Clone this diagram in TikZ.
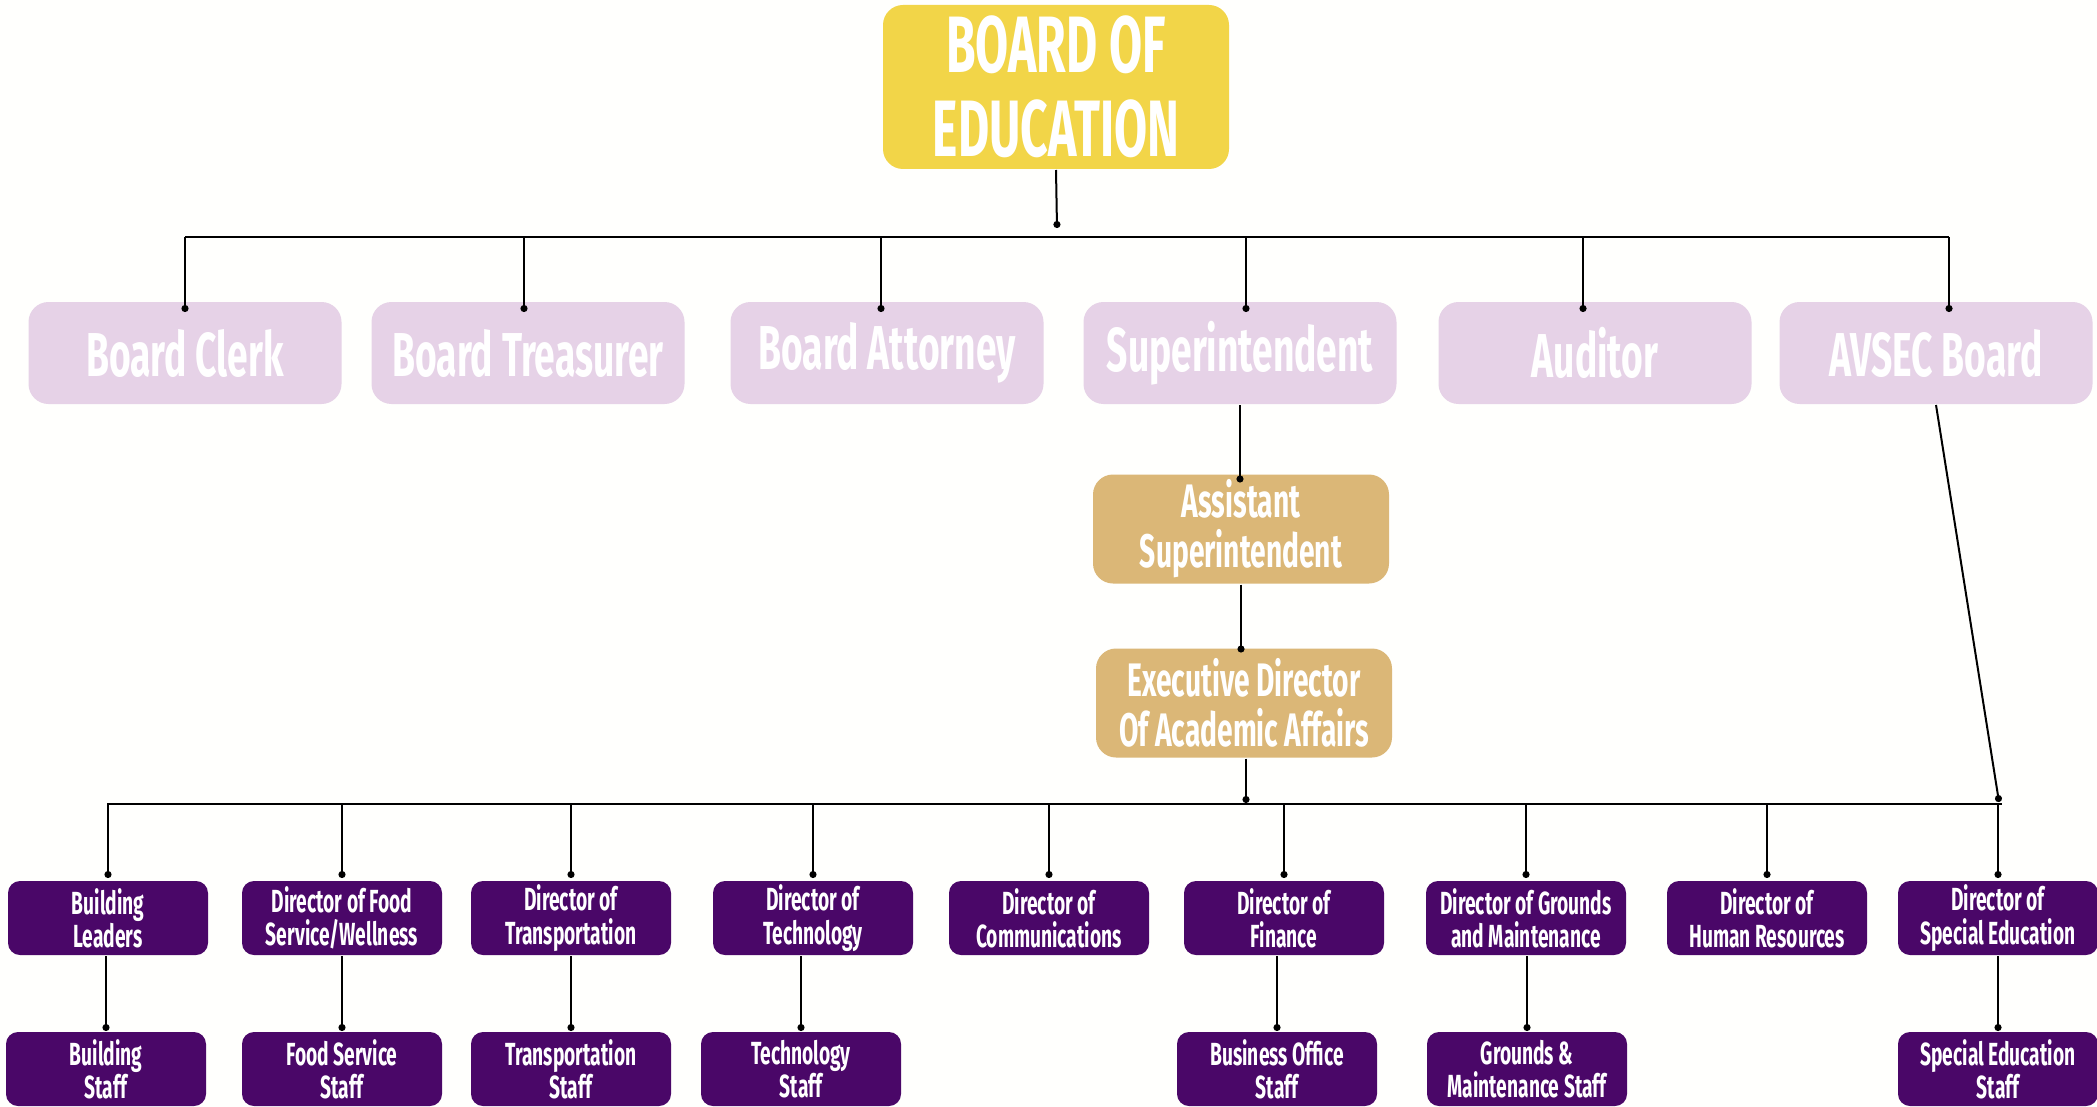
\documentclass[tikz,border=0pt]{standalone}
\usepackage{fontspec}
\newfontfamily\orgfont{Fira Sans}[FakeStretch=0.6]
\usetikzlibrary{arrows.meta}
\definecolor{boeyellow}{HTML}{F2D548}
\definecolor{boardpink}{HTML}{E6D2E7}
\definecolor{officetan}{HTML}{DBB777}
\definecolor{deptpurple}{HTML}{4A0768}
\definecolor{paper}{HTML}{FFFFFD}

\begin{document}
\begin{tikzpicture}[x=0.5pt,y=-0.5pt,line width=1pt,>={Circle[length=3.5pt,width=3.5pt]},
  box/.style={rounded corners=10pt, inner sep=0pt, align=center, text=white},
  boe/.style={box, fill=boeyellow, minimum width=173pt, minimum height=82pt,
    font=\orgfont\bfseries\fontsize{40}{42}\selectfont},
  member/.style={box, fill=boardpink, minimum width=156.5pt, minimum height=51pt,
    font=\orgfont\bfseries\fontsize{31}{33}\selectfont},
  office/.style={box, fill=officetan, minimum width=148pt, minimum height=54.5pt,
    font=\orgfont\bfseries\fontsize{23.5}{25}\selectfont},
  dept/.style={box, fill=deptpurple, rounded corners=6pt, minimum width=100pt, minimum height=37pt,
    font=\orgfont\bfseries\fontsize{16}{16.7}\selectfont}]

\fill[paper] (0,0) rectangle (2097,1107);
\useasboundingbox (0,0) rectangle (2097,1107);

% board and the people it appoints
\path
(1056,87)   node[boe]    (boe)   {BOARD OF\\EDUCATION}
(185,353)   node[member] (clerk) {Board Clerk}
(528,353)   node[member] (treas) {Board Treasurer}
(887,353)   node[member] (atty)  {Board Attorney}
(1240,353)  node[member] (super) {Superintendent}
(1595,353)  node[member] (audit) {Auditor}
(1936,353)  node[member] (avsec) {AVSEC Board}

(1241,529)  node[office] (asst)  {Assistant\\Superintendent}
(1244,703)  node[office] (exec)  {Executive Director\\Of Academic Affairs};

% directors
\path
(108,918)   node[dept] (build)  {Building\\Leaders}
(342,918)   node[dept] (food)   {Director of Food\\Service/Wellness}
(571,918)   node[dept] (trans)  {Director of\\Transportation}
(813,918)   node[dept] (tech)   {Director of\\Technology}
(1049,918)  node[dept] (comm)   {Director of\\Communications}
(1284,918)  node[dept] (fin)    {Director of\\Finance}
(1526,918)  node[dept] (ground) {Director of Grounds\\and Maintenance}
(1767,918)  node[dept] (hr)     {Director of\\Human Resources}
(1998,918)  node[dept] (sped)   {Director of\\Special Education};

% staff
\path
(106,1069)  node[dept] (buildS)  {Building\\Staff}
(342,1069)  node[dept] (foodS)   {Food Service\\Staff}
(571,1069)  node[dept] (transS)  {Transportation\\Staff}
(801,1069)  node[dept] (techS)   {Technology\\Staff}
(1277,1069) node[dept] (finS)    {Business Office\\Staff}
(1527,1069) node[dept] (groundS) {Grounds \&\\Maintenance Staff}
(1998,1069) node[dept] (spedS)   {Special Education\\Staff};

\coordinate (bus1L) at (185,237);
\coordinate (bus1R) at (1949,237);
\coordinate (bus2L) at (107,804);
\coordinate (bus2R) at (2002,804);

\draw[->] (boe.south) -- (1057,228);
\draw (bus1L) -- (bus1R);
\foreach \m/\dx in {clerk/0,treas/-2,atty/-3,super/3,audit/-6,avsec/6.5}
  \draw[->] ([xshift=\dx pt]bus1L -| \m.north) -- ([xshift=\dx pt,yshift=-5.5pt]\m.north);

\draw[->] (super.south) -- ([yshift=-4.5pt]super.south |- asst.north);
\draw[->] (asst.south) -- ([yshift=-2.5pt]asst.south |- exec.north);
\draw[->] ([xshift=1pt]exec.south) -- ([xshift=1pt,yshift=0.5pt]exec.south |- bus2L);
\draw[->] (avsec.south) -- (1999,802);

\draw (bus2L) -- (bus2R);
\foreach \d in {build,food,trans,tech,comm,fin,ground,hr,sped}
  \draw[->] (bus2L -| \d.north) -- ([yshift=1pt]\d.north);

\foreach \d/\s in {build/buildS,food/foodS,trans/transS,tech/techS,fin/finS,ground/groundS,sped/spedS}
  \draw[->] (\s.north |- \d.south) -- (\s.north);
\end{tikzpicture}
\end{document}
